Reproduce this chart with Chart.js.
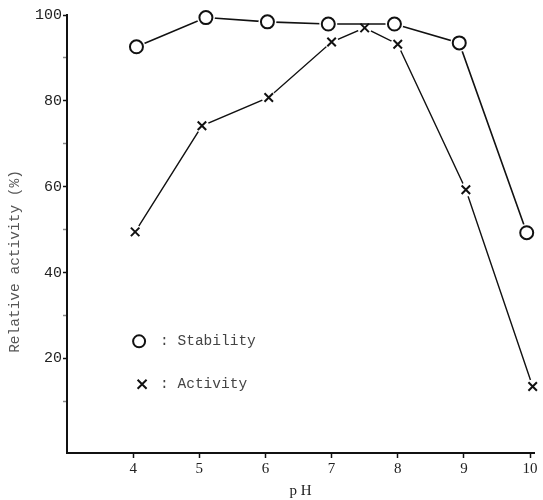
<!DOCTYPE html>
<html>
<head>
<meta charset="utf-8">
<script src="https://cdn.jsdelivr.net/npm/chart.js@4/dist/chart.umd.min.js"></script>
<style>
html,body{margin:0;padding:0;background:#fff;}
#wrap{width:543px;height:500px;position:relative;}
</style>
</head>
<body>
<div id="wrap"><canvas id="c" width="543" height="500"></canvas></div>
<script>
// Data
const stabilityPH = [4.05, 5.1, 6.03, 6.95, 7.95, 8.93, 9.95];
const stabilityVal = [92.6, 99.4, 98.4, 97.9, 97.9, 93.5, 49.3];
const activityPH = [4.03, 5.04, 6.05, 7.0, 7.5, 8.0, 9.03, 10.04];
const activityVal = [49.5, 74.2, 80.8, 93.7, 97.0, 93.2, 59.3, 13.5];
const xTickValues = [4, 5, 6, 7, 8, 9, 10];
const yTickValues = [10, 20, 30, 40, 50, 60, 70, 80, 90, 100];
const yLabelValues = [20, 40, 60, 80, 100];
const legendLabels = [': Stability', ': Activity'];
const xTitle = 'p H';
const yTitle = 'Relative activity (%)';

const toPts = (xs, ys) => xs.map((x, i) => ({x: x, y: ys[i]}));
const stabPts = toPts(stabilityPH, stabilityVal);
const actPts = toPts(activityPH, activityVal);
const ink = '#111';

const overlay = {
  id: 'overlay',
  afterDraw(chart) {
    const ctx = chart.ctx;
    const xs = chart.scales.x, ys = chart.scales.y;
    ctx.save();
    // legend
    const lx = xs.getPixelForValue(4.09);
    const ly1 = ys.getPixelForValue(24);
    const ly2 = ys.getPixelForValue(14);
    ctx.strokeStyle = ink; ctx.lineWidth = 2;
    ctx.beginPath(); ctx.arc(lx, ly1, 6, 0, Math.PI * 2); ctx.stroke();
    ctx.lineWidth = 2;
    const c = 4.5, cx = lx + 3;
    ctx.beginPath();
    ctx.moveTo(cx - c, ly2 - c); ctx.lineTo(cx + c, ly2 + c);
    ctx.moveTo(cx + c, ly2 - c); ctx.lineTo(cx - c, ly2 + c);
    ctx.stroke();
    ctx.fillStyle = '#444';
    ctx.font = '14.5px "Liberation Mono", monospace';
    ctx.textBaseline = 'middle'; ctx.textAlign = 'left';
    ctx.fillText(legendLabels[0], lx + 21, ly1);
    ctx.fillText(legendLabels[1], lx + 21, ly2);
    // y title
    ctx.translate(15, ys.getPixelForValue(42.6));
    ctx.rotate(-Math.PI / 2);
    ctx.textAlign = 'center';
    ctx.fillStyle = '#555';
    ctx.font = '14.5px "Liberation Mono", monospace';
    ctx.fillText(yTitle, 0, 0);
    ctx.restore();
  }
};

new Chart(document.getElementById('c'), {
  type: 'scatter',
  data: {
    datasets: [
      {data: actPts, showLine: true, borderColor: ink, borderWidth: 1.4, pointRadius: 0, order: 6, clip: false},
      {data: actPts, showLine: false, pointStyle: 'circle', pointRadius: 7, backgroundColor: '#fff', borderColor: '#fff', borderWidth: 0, order: 5, clip: false},
      {data: stabPts, showLine: true, borderColor: ink, borderWidth: 1.6, pointRadius: 0, order: 4, clip: false},
      {data: stabPts, showLine: false, pointStyle: 'circle', pointRadius: 9, backgroundColor: '#fff', borderColor: '#fff', borderWidth: 0, order: 3, clip: false},
      {data: actPts, showLine: false, pointStyle: 'crossRot', pointRadius: 6, borderColor: ink, borderWidth: 2, order: 2, clip: false},
      {data: stabPts, showLine: false, pointStyle: 'circle', pointRadius: 6.5, backgroundColor: '#fff', borderColor: ink, borderWidth: 2, order: 1, clip: false}
    ]
  },
  options: {
    responsive: false,
    animation: false,
    events: [],
    layout: {padding: {left: 34, right: 6, top: 15, bottom: 0}},
    plugins: {legend: {display: false}, tooltip: {enabled: false}},
    scales: {
      x: {
        type: 'linear', min: 3, max: 10.06,
        afterBuildTicks: s => { s.ticks = xTickValues.map(v => ({value: v})); },
        grid: {drawOnChartArea: false, drawTicks: true, tickLength: 5, tickColor: ink, tickWidth: 1.5},
        border: {display: true, color: ink, width: 2},
        ticks: {color: '#222', font: {family: '"Liberation Serif", serif', size: 15}, padding: 2, maxRotation: 0},
        title: {display: true, text: xTitle, color: '#222', font: {family: '"Liberation Serif", serif', size: 15}, padding: {top: 2, bottom: 0}}
      },
      y: {
        type: 'linear', min: -2, max: 100,
        afterBuildTicks: s => { s.ticks = yTickValues.map(v => ({value: v})); },
        grid: {drawOnChartArea: false, drawTicks: true, tickLength: 4,
               tickColor: ctx => (ctx.tick && yLabelValues.includes(ctx.tick.value)) ? ink : '#888', tickWidth: 1.5},
        border: {display: true, color: ink, width: 2},
        ticks: {color: '#222', font: {family: '"Liberation Mono", monospace', size: 15}, padding: 1,
                callback: v => yLabelValues.includes(v) ? String(v) : ''}
      }
    }
  },
  plugins: [overlay]
});
</script>
</body>
</html>
